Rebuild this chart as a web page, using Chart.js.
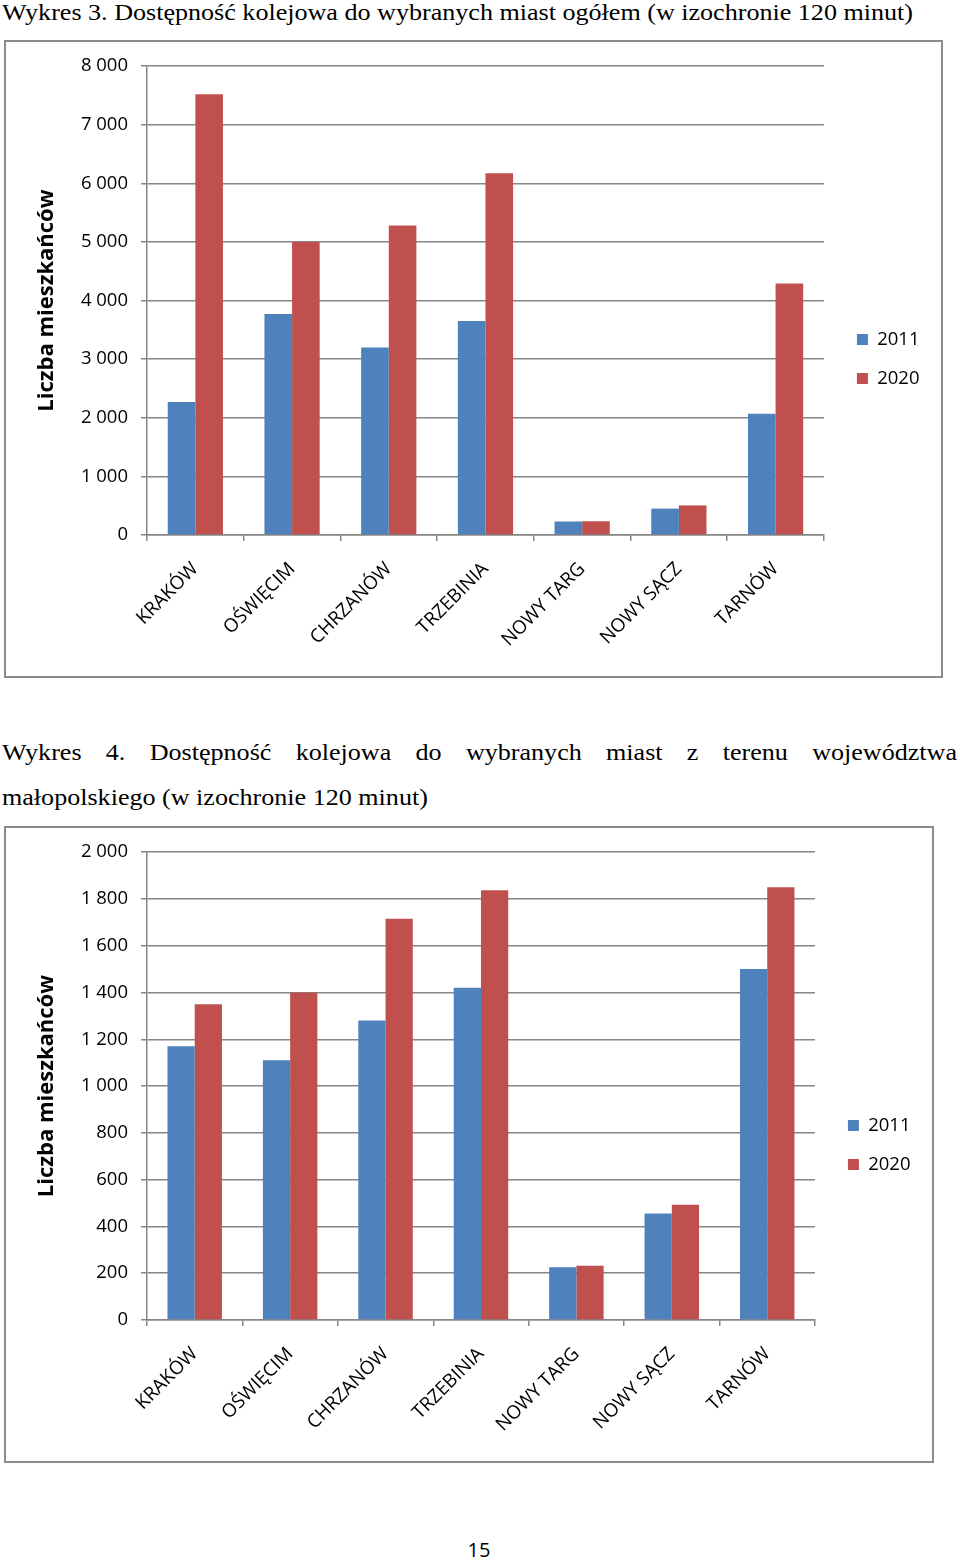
<!DOCTYPE html>
<html lang="pl">
<head>
<meta charset="utf-8">
<script src="https://cdn.jsdelivr.net/npm/chart.js@4.4.1/dist/chart.umd.min.js"></script>
<style>
html,body{margin:0;padding:0;background:#fff;}
body{width:960px;height:1561px;position:relative;overflow:hidden;color:#000;}
.cap{position:absolute;left:2px;font-size:24px;transform-origin:0 0;font-family:"Liberation Serif","Tinos","Times New Roman","Nimbus Roman",Times,serif;}
#cap1{top:0;line-height:24px;white-space:nowrap;}
#cap2{top:730px;line-height:45px;text-align:justify;text-align-last:left;}
.box{position:absolute;border:2px solid #8c8c8c;box-sizing:border-box;background:#fff;}
.box canvas{display:block;}
#pg{position:absolute;top:1537px;left:0;width:958px;text-align:center;font-family:"Open Sans",sans-serif;font-size:20px;line-height:26px;}
</style>
</head>
<body>
<div class="cap" id="cap1">Wykres 3. Dostępność kolejowa do wybranych miast ogółem (w izochronie 120 minut)</div>
<div class="box" style="left:4px;top:40px;width:939px;height:638px;"><canvas id="c1" width="935" height="634"></canvas></div>
<div class="cap" id="cap2">Wykres 4. Dostępność kolejowa do wybranych miast z terenu województwa małopolskiego (w izochronie 120 minut)</div>
<div class="box" style="left:4px;top:826px;width:930px;height:637px;"><canvas id="c2" width="926" height="633"></canvas></div>
<div id="pg">15</div>
<script>
const categories = ['KRAKÓW', 'OŚWIĘCIM', 'CHRZANÓW', 'TRZEBINIA', 'NOWY TARG', 'NOWY SĄCZ', 'TARNÓW'];
const seriesNames = ['2011', '2020'];
const total2011 = [2270, 3770, 3200, 3650, 230, 450, 2070];
const total2020 = [7520, 5000, 5280, 6170, 235, 505, 4290];
const region2011 = [1170, 1110, 1280, 1420, 225, 455, 1500];
const region2020 = [1350, 1400, 1715, 1837, 232, 493, 1850];
const yTicksTotal = [0, 1000, 2000, 3000, 4000, 5000, 6000, 7000, 8000];
const yTicksRegion = [0, 200, 400, 600, 800, 1000, 1200, 1400, 1600, 1800, 2000];
const yAxisTitle = 'Liczba mieszkańców';

// fit captions
(function(){
  const c1 = document.getElementById('cap1');
  const c2 = document.getElementById('cap2');
  const w = c1.getBoundingClientRect().width;
  const s = 911 / w;
  c1.style.transform = 'scaleX(' + s + ')';
  c2.style.width = (955 / s) + 'px';
  c2.style.transform = 'scaleX(' + s + ')';
})();

Chart.defaults.font.family = "'Open Sans', sans-serif";
Chart.defaults.color = '#000';

const GRID = '#868686';
const fmt = v => String(v).replace(/\B(?=(\d{3})+(?!\d))/g, ' ');

function makeChart(id, d11, d20, yTicks, padTop) {
  return new Chart(document.getElementById(id), {
    type: 'bar',
    data: {
      labels: categories,
      datasets: [
        {label: seriesNames[0], data: d11, backgroundColor: '#4F81BD', borderWidth: 0, categoryPercentage: 0.571, barPercentage: 1},
        {label: seriesNames[1], data: d20, backgroundColor: '#C0504D', borderWidth: 0, categoryPercentage: 0.571, barPercentage: 1}
      ]
    },
    options: {
      responsive: false,
      animation: false,
      events: [],
      layout: {padding: {top: padTop, bottom: 22, left: 0, right: 11.5}},
      plugins: {
        legend: {position: 'right', labels: {boxWidth: 11, boxHeight: 11, padding: 20.5, color: '#000', font: {size: 18.5}}},
        tooltip: {enabled: false}
      },
      scales: {
        x: {
          grid: {display: true, drawOnChartArea: false, drawTicks: true, tickLength: 6, color: GRID, lineWidth: 1.5, offset: true},
          border: {color: GRID, width: 1.5},
          ticks: {minRotation: 45, maxRotation: 45, autoSkip: false, padding: 17, color: '#000', font: {size: 18.8}},
          afterFit: s => { s.height = 119; }
        },
        y: {
          min: yTicks[0],
          max: yTicks[yTicks.length - 1],
          afterBuildTicks: s => { s.ticks = yTicks.map(v => ({value: v})); },
          grid: {color: GRID, lineWidth: 1.5, tickLength: 6},
          border: {color: GRID, width: 1.5},
          ticks: {padding: 13, color: '#000', font: {size: 18.5}, callback: v => fmt(v)},
          title: {display: true, text: yAxisTitle, color: '#000', font: {size: 22, weight: 'bold'}, padding: {top: 28, bottom: 0}},
          afterFit: s => { s.width = 141; }
        },
        y2: {
          position: 'right',
          display: true,
          grid: {display: false, drawTicks: false},
          ticks: {display: false},
          border: {display: false},
          afterFit: s => { s.width = 12.5; }
        }
      }
    }
  });
}

makeChart('c1', total2011, total2020, yTicksTotal, 22);
makeChart('c2', region2011, region2020, yTicksRegion, 23);
</script>
</body>
</html>
